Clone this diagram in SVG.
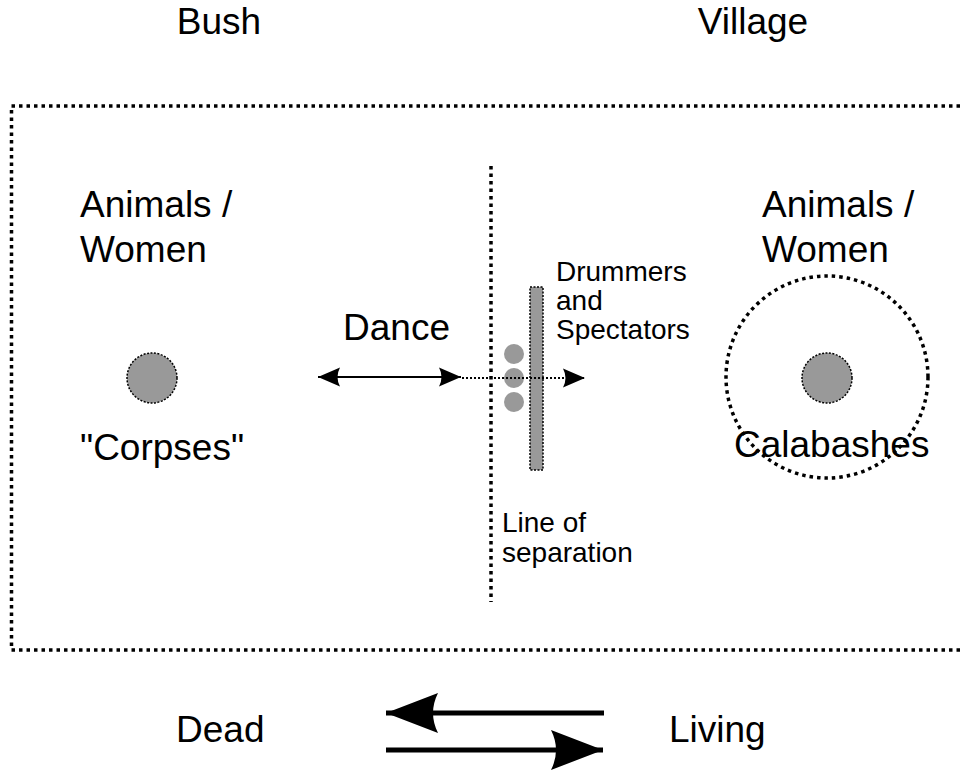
<svg xmlns="http://www.w3.org/2000/svg" width="964" height="771" viewBox="0 0 964 771">
<style>
text{font-family:"Liberation Sans",Arial,sans-serif;fill:#000}
.big{font-size:37px}
.small{font-size:28px}
.dots{fill:none;stroke:#000;stroke-width:3.5;stroke-dasharray:3.5 4}
.fine{stroke:#000;stroke-width:1.5;stroke-dasharray:2 1.5}
.gray{fill:#999}
</style>
<defs>
<marker id="ah" markerUnits="userSpaceOnUse" markerWidth="24" markerHeight="22" refX="22" refY="11" orient="auto-start-reverse">
<path d="M0,1.5 L22,11 L0,20.5 Q5,11 0,1.5 Z" fill="#000"/>
</marker>
<marker id="bigah" markerUnits="userSpaceOnUse" markerWidth="54" markerHeight="42" refX="52" refY="21" orient="auto-start-reverse">
<path d="M0,1 L52,21 L0,41 Q10,21 0,1 Z" fill="#000"/>
</marker>
</defs>
<rect x="0" y="0" width="964" height="771" fill="#fff"/>
<g id="labels">
<text class="big" x="219" y="34" text-anchor="middle">Bush</text>
<text class="big" x="753" y="34" text-anchor="middle">Village</text>
</g>
<g id="frame">
<path class="dots" d="M975,106 L11.5,106 L11.5,650 L975,650"/>
</g>
<g id="bush-side">
<text class="big" x="80" y="217">Animals /</text>
<text class="big" x="80" y="262">Women</text>
<circle class="gray fine" cx="152" cy="378" r="25"/>
<text class="big" x="80" y="460">"Corpses"</text>
</g>
<g id="dance">
<text class="big" x="343" y="340">Dance</text>
</g>
<g id="separation">
<line class="dots" x1="491" y1="166" x2="491" y2="602"/>
<text class="small" x="502" y="532">Line of</text>
<text class="small" x="502" y="562">separation</text>
</g>
<g id="drummers">
<circle class="gray" cx="514" cy="354" r="10"/>
<circle class="gray" cx="514" cy="378" r="10"/>
<circle class="gray" cx="514" cy="402" r="10"/>
<rect class="gray fine" x="530" y="287" width="13" height="183"/>
<text class="small" x="556" y="281">Drummers</text>
<text class="small" x="556" y="310">and</text>
<text class="small" x="556" y="339">Spectators</text>
</g>
<g id="village-side">
<text class="big" x="762" y="217">Animals /</text>
<text class="big" x="762" y="262">Women</text>
<circle class="dots" cx="827" cy="377" r="101"/>
<circle class="gray fine" cx="827" cy="378" r="25"/>
<text class="big" x="734" y="457">Calabashes</text>
</g>
<g id="connectors">
<line x1="318" y1="377" x2="461" y2="377" stroke="#000" stroke-width="2" marker-start="url(#ah)" marker-end="url(#ah)"/>
<line x1="462" y1="378" x2="585" y2="378" stroke="#000" stroke-width="2" stroke-dasharray="2 2" marker-end="url(#ah)"/>
<line x1="386" y1="713" x2="604" y2="713" stroke="#000" stroke-width="5" marker-start="url(#bigah)"/>
<line x1="386" y1="750" x2="603" y2="750" stroke="#000" stroke-width="5" marker-end="url(#bigah)"/>
</g>
<g id="bottom-labels">
<text class="big" x="176" y="742">Dead</text>
<text class="big" x="669" y="742">Living</text>
</g>
</svg>
